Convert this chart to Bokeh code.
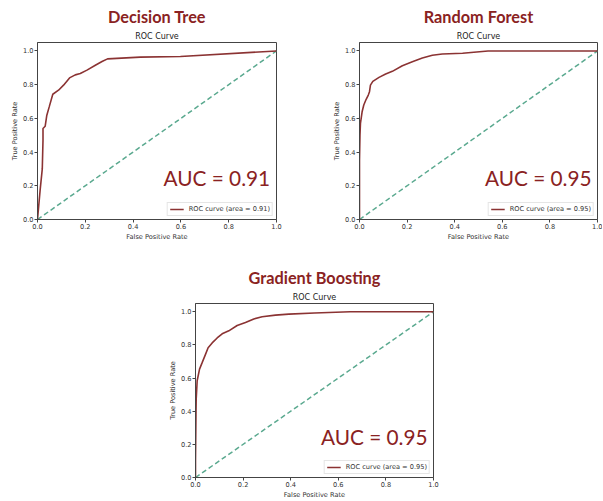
from bokeh.plotting import figure
from bokeh.layouts import column, row
from bokeh.models import (Range1d, FixedTicker, NumeralTickFormatter, Title,
                          Label, Legend, LegendItem, Spacer)
from bokeh.embed import file_html
from bokeh.resources import INLINE

# ---- data ----
models = ["Decision Tree", "Random Forest", "Gradient Boosting"]
auc_values = [0.91, 0.95, 0.95]

dt_fpr = [0, 0.011, 0.020, 0.023, 0.023, 0.032, 0.039, 0.049, 0.064, 0.088, 0.109,
          0.134, 0.158, 0.179, 0.207, 0.242, 0.27, 0.293, 0.43, 0.598, 1.0]
dt_tpr = [0, 0.174, 0.30, 0.47, 0.54, 0.553, 0.619, 0.668, 0.743, 0.767, 0.797,
          0.84, 0.858, 0.866, 0.886, 0.915, 0.937, 0.953, 0.963, 0.967, 1.0]

rf_fpr = [0, 0.0, 0.002, 0.004, 0.011, 0.018, 0.028, 0.037, 0.042, 0.046, 0.056,
          0.082, 0.11, 0.138, 0.18, 0.222, 0.264, 0.306, 0.348, 0.433, 0.54, 1.0]
rf_tpr = [0, 0.35, 0.50, 0.57, 0.639, 0.679, 0.713, 0.738, 0.758, 0.797, 0.819,
          0.843, 0.863, 0.879, 0.912, 0.936, 0.958, 0.974, 0.982, 0.986, 1.0, 1.0]

gb_fpr = [0, 0.0, 0.002, 0.003, 0.007, 0.017, 0.028, 0.042, 0.053, 0.07, 0.091,
          0.112, 0.14, 0.175, 0.21, 0.245, 0.28, 0.336, 0.392, 0.5, 0.65, 1.0]
gb_tpr = [0, 0.1, 0.38, 0.475, 0.584, 0.654, 0.693, 0.743, 0.783, 0.812, 0.842,
          0.867, 0.885, 0.917, 0.935, 0.957, 0.97, 0.98, 0.986, 0.993, 1.0, 1.0]

diag = [0, 1]
ticks = [0.0, 0.2, 0.4, 0.6, 0.8, 1.0]

DARK_RED = "#8a2222"
LINE_RED = "#8b3333"
TEAL = "#5aa98f"
TICK_FONT = "DejaVu Sans"


def make_plot(name, auc, fpr, tpr, width, height, border_top, border_right,
              border_bottom):
    p = figure(width=width, height=height, output_backend="svg",
               toolbar_location=None, x_range=Range1d(0, 1.0),
               y_range=Range1d(0, 1.05), min_border_left=37,
               min_border_right=border_right, min_border_top=border_top,
               min_border_bottom=border_bottom)
    p.background_fill_color = "white"
    p.border_fill_color = "white"
    p.outline_line_color = "#444444"
    p.outline_line_width = 1
    p.grid.visible = False

    for ax in (p.xaxis[0], p.yaxis[0]):
        ax.ticker = FixedTicker(ticks=ticks)
        ax.formatter = NumeralTickFormatter(format="0.0")
        ax.minor_tick_line_color = None
        ax.major_tick_out = 3
        ax.major_tick_in = 0
        ax.major_tick_line_color = "#444444"
        ax.axis_line_color = "#444444"
        ax.major_label_text_font = TICK_FONT
        ax.major_label_text_font_size = "6.6px"
        ax.major_label_text_color = "#333333"
        ax.major_label_standoff = 1
        ax.axis_label_text_font = TICK_FONT
        ax.axis_label_text_font_size = "6.6px"
        ax.axis_label_text_font_style = "normal"
        ax.axis_label_text_color = "#333333"
        ax.axis_label_standoff = 1
    p.xaxis.axis_label = "False Positive Rate"
    p.yaxis.axis_label = "True Positive Rate"

    p.add_layout(Title(text="ROC Curve", align="center", text_font=TICK_FONT,
                       text_font_size="8px", text_font_style="normal",
                       text_color="#222222", standoff=3), "above")
    p.add_layout(Title(text=name, align="center", text_font="Lato",
                       text_font_size="16.3px", text_font_style="bold",
                       text_color=DARK_RED, standoff=5), "above")

    p.line(diag, diag, line_color=TEAL, line_width=1.5, line_dash="5 3")
    roc_r = p.line(fpr, tpr, line_color=LINE_RED, line_width=1.6)

    p.add_layout(Label(x=0.527, y=0.25, text=f"AUC = {auc:.2f}", text_font="Lato",
                       text_font_size="20.8px", text_color=DARK_RED,
                       text_baseline="alphabetic"))

    legend = Legend(items=[LegendItem(label=f"ROC curve (area = {auc:.2f})",
                                      renderers=[roc_r])],
                    location="bottom_right", label_text_font=TICK_FONT,
                    label_text_font_size="6.6px", label_text_color="#333333",
                    glyph_width=14, glyph_height=6, label_height=6,
                    label_standoff=5, padding=2, margin=3, spacing=0,
                    border_line_color="#cccccc", background_fill_alpha=1.0)
    p.add_layout(legend, "center")
    return p


p1 = make_plot(models[0], auc_values[0], dt_fpr, dt_tpr, 322, 243, 42, 46, 24)
p2 = make_plot(models[1], auc_values[1], rf_fpr, rf_tpr, 280, 243, 42, 5, 24)
p3 = make_plot(models[2], auc_values[2], gb_fpr, gb_tpr, 285, 258, 60, 10, 21)

layout = column(row(p1, p2), row(Spacer(width=158, height=258), p3))

open("out.html", "w").write(file_html(layout, INLINE))
